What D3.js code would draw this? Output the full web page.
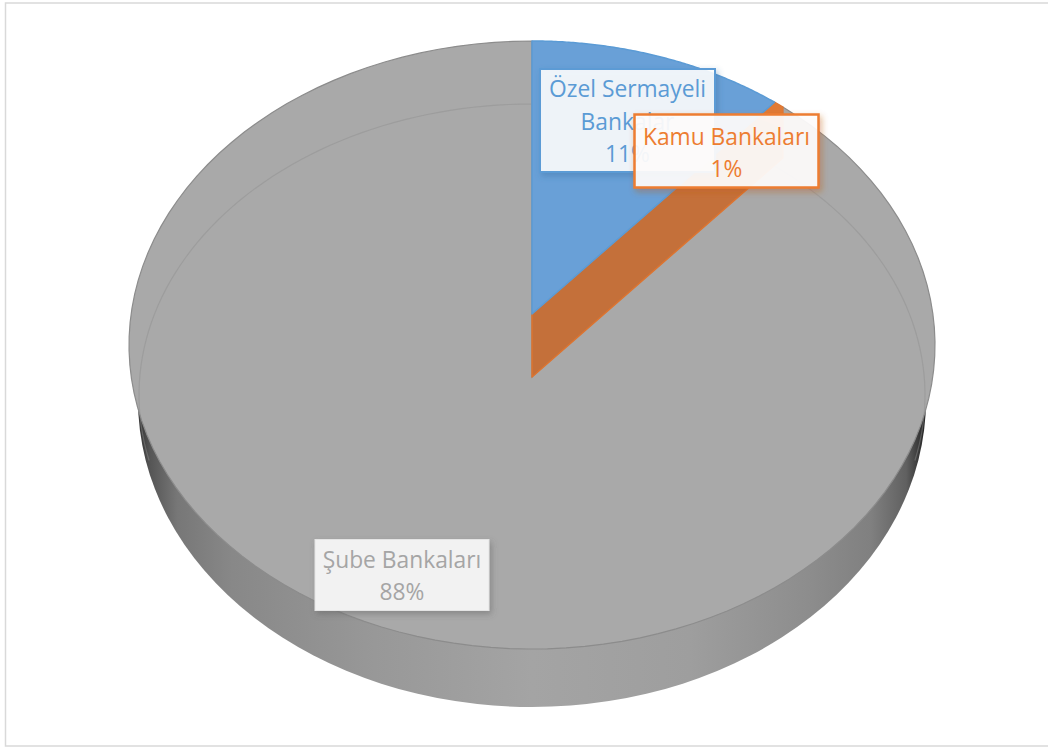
<!DOCTYPE html>
<html lang="tr">
<head>
    <meta charset="UTF-8">
    <title>Banka Dağılımı</title>
    <script src="https://d3js.org/d3.v7.min.js"></script>
    <style>
        body { margin: 0; background: #fff; }
        svg { display: block; }
        text { font-family: "Open Sans", sans-serif; font-size: 22.8px; text-anchor: middle; }
    </style>
</head>
<body>
    <svg width="1048" height="747"></svg>
    <script>
        const categories = ["Özel Sermayeli Bankalar", "Kamu Bankaları", "Şube Bankaları"];
        const shares = [11, 1, 88];
        const colors = ["#69a0d7", "#c4703a", "#a9a9a9"];
        const strokes = ["#5b9bd5", "#dc7430", "#8c8c8c"];
        const textColors = ["#5b9bd5", "#ed7d31", "#a5a5a5"];

        const svg = d3.select("svg");
        const top_ = { cx: 532, cy: 345, rx: 403, ry: 304 };
        const bottom = { cx: 532, cy: 400, rx: 394, ry: 307 };
        const inner = { cx: 532, cy: 395, rx: 393, ry: 291 };
        const rad = d => d * Math.PI / 180;

        const arcs = d3.pie().sort(null)(shares);

        // the perspective squeezes the small slices on the rim
        const rimAngle = d3.scaleLinear()
            .domain([0, arcs[0].endAngle, arcs[1].endAngle, 2 * Math.PI])
            .range([0, rad(37), rad(38.5), 2 * Math.PI]);

        const onEllipse = (e, a) => [e.cx + e.rx * Math.sin(a), e.cy - e.ry * Math.cos(a)];
        const rim = (a0, a1) => d3.range(0, 121).map(i => onEllipse(top_, rimAngle(a0 + (a1 - a0) * i / 120)));
        const line = d3.line();

        const defs = svg.append("defs");
        const grad = defs.append("linearGradient").attr("id", "side")
            .attr("gradientUnits", "userSpaceOnUse")
            .attr("x1", 138).attr("x2", 926).attr("y1", 0).attr("y2", 0);
        [[0, "#333"], [0.015, "#555"], [0.05, "#777"], [0.12, "#888"], [0.3, "#989898"], [0.5, "#a4a4a4"],
         [0.7, "#9e9e9e"], [0.85, "#8d8d8d"], [0.93, "#808080"], [0.975, "#606060"], [1, "#222"]]
            .forEach(s => grad.append("stop").attr("offset", s[0]).attr("stop-color", s[1]));

        const shadow = (id, color, opacity) => {
            defs.append("filter").attr("id", id)
                .attr("x", "-10%").attr("y", "-15%").attr("width", "125%").attr("height", "135%")
                .append("feDropShadow")
                .attr("dx", 2).attr("dy", 3).attr("stdDeviation", 3)
                .attr("flood-color", color).attr("flood-opacity", opacity);
        };
        shadow("s0", "#3d6f9f", 0.45);
        shadow("s1", "#c05a1c", 0.45);
        shadow("s2", "#555", 0.4);

        // chart frame
        svg.append("rect")
            .attr("x", 5.5).attr("y", 3).attr("width", 1060).attr("height", 743)
            .attr("fill", "#fff").attr("stroke", "#d9d9d9").attr("stroke-width", 1.5);

        // side wall
        svg.append("ellipse")
            .attr("cx", bottom.cx).attr("cy", bottom.cy)
            .attr("rx", bottom.rx).attr("ry", bottom.ry)
            .attr("fill", "url(#side)");

        // apexes of the slices, the orange one is seen as a thick wedge
        const apexHigh = [532, 314];
        const apexLow = [532, 377];
        const wall = apexLow[1] - apexHigh[1];

        const kamuRim = rim(arcs[1].startAngle, arcs[1].endAngle);
        const kamuEnd = kamuRim[kamuRim.length - 1];
        const kamuSlope = (kamuRim[0][1] - apexHigh[1]) / (kamuRim[0][0] - apexHigh[0]);
        const kamuBend = [kamuEnd[0], apexLow[1] + kamuSlope * (kamuEnd[0] - apexLow[0])];

        // big slice
        svg.append("path")
            .attr("d", line([apexLow, ...rim(arcs[2].startAngle, arcs[2].endAngle)]) + "Z")
            .attr("fill", colors[2])
            .attr("stroke", strokes[2])
            .attr("stroke-width", 1.2);

        // back wall seen through the top
        svg.append("path")
            .attr("d", line(d3.range(0, 121).map(i => onEllipse(inner, rad(-103 + 206 * i / 120)))))
            .attr("fill", "none")
            .attr("stroke", "#8f8f8f")
            .attr("stroke-opacity", 0.45)
            .attr("stroke-width", 1.2);

        svg.append("path")
            .attr("d", line([apexHigh, ...kamuRim, kamuBend, apexLow]) + "Z")
            .attr("fill", colors[1])
            .attr("stroke", strokes[1])
            .attr("stroke-width", 1.5)
            .attr("stroke-linejoin", "round");

        // brighter tip of the orange slice
        svg.append("path")
            .attr("d", line([...kamuRim, [kamuEnd[0], kamuEnd[1] + wall / 3], [kamuRim[0][0] - 18, kamuRim[0][1] - kamuSlope * 18]]) + "Z")
            .attr("fill", "#e07a35");

        svg.append("path")
            .attr("d", line([apexHigh, ...rim(arcs[0].startAngle, arcs[0].endAngle)]) + "Z")
            .attr("fill", colors[0])
            .attr("stroke", strokes[0])
            .attr("stroke-width", 1.5)
            .attr("stroke-linejoin", "round");

        // data labels
        const labelLines = i => {
            const pct = shares[i] + "%";
            return i === 0 ? ["Özel Sermayeli", "Bankalar", pct] : [categories[i], pct];
        };
        const boxes = [
            { x: 540, y: 69, w: 175, h: 103, base: 97, step: 32.5, fill: "rgba(255,255,255,0.88)", stroke: 2 },
            { x: 634.5, y: 114.5, w: 184, h: 73, base: 145, step: 32, fill: "rgba(255,255,255,0.9)", stroke: 2.5 },
            { x: 315, y: 539.5, w: 174, h: 71, base: 568, step: 32, fill: "#f2f2f2", stroke: 1 }
        ];
        boxes.forEach((b, i) => {
            const g = svg.append("g");
            g.append("rect")
                .attr("x", b.x).attr("y", b.y).attr("width", b.w).attr("height", b.h)
                .attr("fill", b.fill)
                .attr("stroke", i === 2 ? "#e4e4e4" : textColors[i])
                .attr("stroke-width", b.stroke)
                .attr("filter", `url(#s${i})`);
            g.selectAll("text").data(labelLines(i)).join("text")
                .attr("x", b.x + b.w / 2)
                .attr("y", (d, j) => b.base + j * b.step)
                .attr("fill", textColors[i])
                .text(d => d);
        });
    </script>
</body>
</html>
